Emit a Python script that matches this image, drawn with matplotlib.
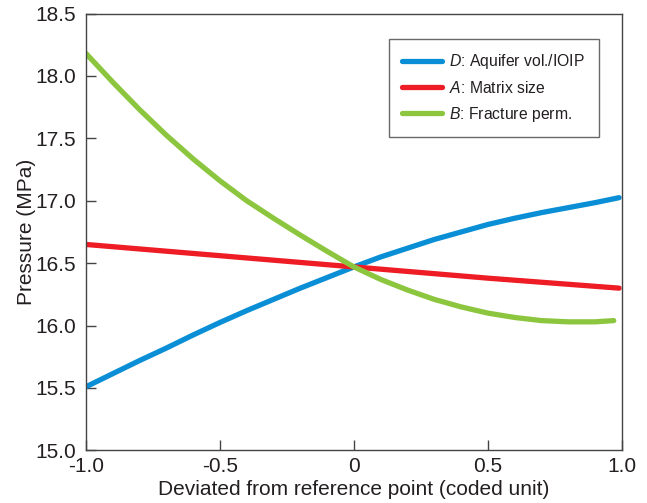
import matplotlib
matplotlib.use("Agg")
import matplotlib.pyplot as plt

plt.rcParams['font.family'] = ['Liberation Sans', 'DejaVu Sans']
plt.rcParams['mathtext.fontset'] = 'custom'
plt.rcParams['mathtext.it'] = 'Liberation Sans:italic'
plt.rcParams['mathtext.rm'] = 'Liberation Sans'

# Data
x_d = [-1.0, -0.9, -0.8, -0.7, -0.6, -0.5, -0.4, -0.3, -0.2, -0.1, 0.0,
       0.1, 0.2, 0.3, 0.4, 0.5, 0.6, 0.7, 0.8, 0.9, 0.99]
p_d = [15.51, 15.615, 15.72, 15.82, 15.925, 16.025, 16.12, 16.21, 16.30, 16.385, 16.47,
       16.55, 16.62, 16.69, 16.75, 16.81, 16.86, 16.905, 16.945, 16.985, 17.025]

x_a = [-1.0, -0.5, 0.0, 0.5, 0.99]
p_a = [16.65, 16.56, 16.47, 16.38, 16.30]

x_b = [-1.0, -0.9, -0.8, -0.7, -0.6, -0.5, -0.4, -0.3, -0.2, -0.1, 0.0,
       0.1, 0.2, 0.3, 0.4, 0.5, 0.6, 0.7, 0.8, 0.9, 0.97]
p_b = [18.18, 17.95, 17.73, 17.525, 17.335, 17.16, 17.00, 16.86, 16.725, 16.595, 16.47,
       16.37, 16.285, 16.21, 16.15, 16.10, 16.065, 16.04, 16.03, 16.03, 16.04]

labels = [r"$D$: Aquifer vol./IOIP", r"$A$: Matrix size", r"$B$: Fracture perm."]
colors = ["#0a8fd6", "#ee1c25", "#8cc63f"]

x_ticks = [-1.0, -0.5, 0.0, 0.5, 1.0]
x_ticklabels = ["-1.0", "-0.5", "0", "0.5", "1.0"]
y_ticks = [15.0, 15.5, 16.0, 16.5, 17.0, 17.5, 18.0, 18.5]
y_ticklabels = ["15.0", "15.5", "16.0", "16.5", "17.0", "17.5", "18.0", "18.5"]

fig = plt.figure(figsize=(6.47, 5.03), dpi=100)
ax = fig.add_axes([0.133, 0.1046, 0.828, 0.8684])

for xs, ys, lab, c in zip([x_d, x_a, x_b], [p_d, p_a, p_b], labels, colors):
    ax.plot(xs, ys, color=c, lw=3.8, label=lab, solid_capstyle='round')

ax.set_xlim(-1.0, 1.0)
ax.set_ylim(15.0, 18.5)
ax.set_xticks(x_ticks)
ax.set_xticklabels(x_ticklabels)
ax.set_yticks(y_ticks)
ax.set_yticklabels(y_ticklabels)
ax.tick_params(direction='in', length=7, width=1, colors='#444444', labelcolor='#231f20',
               labelsize=15, top=False, right=False)
ax.tick_params(axis='x', pad=5)
ax.tick_params(axis='y', pad=7)
for s in ax.spines.values():
    s.set_color('#444444')
    s.set_linewidth(1.0)

ax.set_xlabel("Deviated from reference point (coded unit)", fontsize=15, color='#231f20', labelpad=3)
ax.set_ylabel("Pressure (MPa)", fontsize=15, color='#231f20', labelpad=0)

leg = ax.legend(loc='upper right', bbox_to_anchor=(0.957, 0.942), fontsize=11.3,
                frameon=True, fancybox=False, edgecolor='#444444', handlelength=2.55,
                borderpad=0.85, labelspacing=0.55, handletextpad=0.45, borderaxespad=0)
leg.get_frame().set_linewidth(1.0)
for t in leg.get_texts():
    t.set_color('#231f20')

fig.savefig("out.png", dpi=100)
